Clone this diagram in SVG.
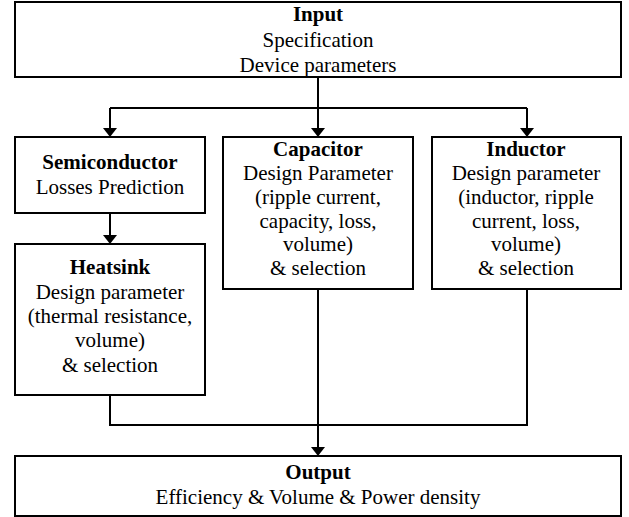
<svg xmlns="http://www.w3.org/2000/svg" width="629" height="517" viewBox="0 0 629 517" font-family="'Liberation Serif', 'Times New Roman', 'DejaVu Serif', serif">
<style>
.box{fill:#fff;stroke:#000;stroke-width:2}
.ln{fill:none;stroke:#000;stroke-width:2}
text{font-family:'Liberation Serif','Times New Roman',serif;font-size:21px;fill:#000;text-anchor:middle}
.b{font-weight:bold}
</style>
<g id="connectors">
<path class="ln" d="M318,77 V108"/>
<path class="ln" d="M110,108 H527"/>
<path class="ln" d="M110,108 V128"/>
<path class="ln" d="M318,108 V128"/>
<path class="ln" d="M527,108 V128"/>
<path class="ln" d="M110,213 V235"/>
<path class="ln" d="M110,395 V425 H527 V289"/>
<path class="ln" d="M318,289 V447"/>
<polygon points="103,128 117,128 110,137" fill="#000"/>
<polygon points="311,128 325,128 318,137" fill="#000"/>
<polygon points="520,128 534,128 527,137" fill="#000"/>
<polygon points="103,235 117,235 110,244" fill="#000"/>
<polygon points="311,447 325,447 318,456" fill="#000"/>
</g>
<g id="input">
<rect class="box" x="15" y="2" width="606" height="75"/>
<text x="318" y="21" class="b">Input</text>
<text x="318" y="47">Specification</text>
<text x="318" y="72">Device parameters</text>
</g>
<g id="semiconductor">
<rect class="box" x="15" y="137" width="190" height="76"/>
<text x="110" y="169" class="b">Semiconductor</text>
<text x="110" y="194">Losses Prediction</text>
</g>
<g id="heatsink">
<rect class="box" x="15" y="244" width="190" height="151"/>
<text x="110" y="274" class="b">Heatsink</text>
<text x="110" y="299">Design parameter</text>
<text x="110" y="323">(thermal resistance,</text>
<text x="110" y="347">volume)</text>
<text x="110" y="372">&amp; selection</text>
</g>
<g id="capacitor">
<rect class="box" x="223" y="137" width="190" height="152"/>
<text x="318" y="156" class="b">Capacitor</text>
<text x="318" y="180">Design Parameter</text>
<text x="318" y="204">(ripple current,</text>
<text x="318" y="228">capacity, loss,</text>
<text x="318" y="251">volume)</text>
<text x="318" y="275">&amp; selection</text>
</g>
<g id="inductor">
<rect class="box" x="432" y="137" width="189" height="152"/>
<text x="526" y="156" class="b">Inductor</text>
<text x="526" y="180">Design parameter</text>
<text x="526" y="204">(inductor, ripple</text>
<text x="526" y="228">current, loss,</text>
<text x="526" y="251">volume)</text>
<text x="526" y="275">&amp; selection</text>
</g>
<g id="output">
<rect class="box" x="15" y="456" width="606" height="60"/>
<text x="318" y="479" class="b">Output</text>
<text x="318" y="504">Efficiency &amp; Volume &amp; Power density</text>
</g>
</svg>
